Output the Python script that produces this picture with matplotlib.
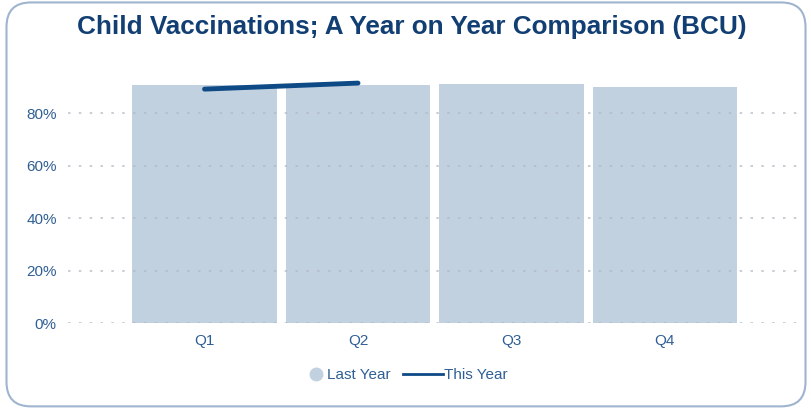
import matplotlib.pyplot as plt
from matplotlib.patches import FancyBboxPatch
from matplotlib.lines import Line2D
from matplotlib.ticker import FuncFormatter

quarters = ['Q1', 'Q2', 'Q3', 'Q4']
last_year = [90.7, 90.6, 90.9, 90.0]
this_year = [89.1, 91.4]

bar_col = '#c2d1e0'
line_col = '#0e4a86'
text_col = '#2f5f94'

plt.rcParams['font.family'] = ['Liberation Sans', 'DejaVu Sans']

fig = plt.figure(figsize=(8.12, 4.08), dpi=100)
# rounded card border, kept behind the axes
card = FancyBboxPatch((0.008, 0.004), 0.984, 0.99, transform=fig.transFigure,
                      boxstyle='round,pad=0,rounding_size=0.03',
                      facecolor='white', edgecolor='#9fb4cf', linewidth=1.5,
                      mutation_aspect=2.0, zorder=-5)
fig.patches.append(card)
ax = fig.add_axes([0.0837, 0.2083, 0.9015, 0.6434])
ax.set_facecolor('none')

x = range(len(quarters))
ax.bar(x, last_year, width=0.94, color=bar_col, zorder=2)
ax.plot(range(len(this_year)), this_year, color=line_col, linewidth=3.5,
        solid_capstyle='round', zorder=4)

ax.set_xlim(-0.89, 3.88)
ax.set_ylim(0, 100)
ax.set_yticks([0, 20, 40, 60, 80])
ax.yaxis.set_major_formatter(FuncFormatter(lambda v, p: f'{v:.0f}%'))
ax.set_xticks(list(x))
ax.set_xticklabels(quarters)
ax.tick_params(axis='both', length=0, labelsize=11, colors=text_col)
ax.tick_params(axis='y', pad=8)
ax.tick_params(axis='x', pad=8)
ax.grid(axis='y', linestyle=(0, (1.5, 5)), color='#b0b8c2', linewidth=1.2, alpha=0.8, zorder=3)
ax.set_axisbelow(False)
for s in ax.spines.values():
    s.set_visible(False)

fig.text(0.507, 0.934, 'Child Vaccinations; A Year on Year Comparison (BCU)',
         ha='center', va='center', fontsize=18.8, fontweight='bold', color='#123f73')

# legend in two parts so the dot sits close to its label
dot = Line2D([], [], marker='o', linestyle='none', markersize=9,
             markerfacecolor=bar_col, markeredgecolor=bar_col)
dash = Line2D([], [], color=line_col, linewidth=2)
leg1 = fig.legend([dot], ['Last Year'], loc='center right', bbox_to_anchor=(0.49, 0.08),
                  frameon=False, fontsize=11, labelcolor=text_col, borderpad=0,
                  handlelength=0.8, handletextpad=0.3)
leg2 = fig.legend([dash], ['This Year'], loc='center left', bbox_to_anchor=(0.487, 0.08),
                  frameon=False, fontsize=11, labelcolor=text_col, borderpad=0,
                  handlelength=2.6, handletextpad=0.1)

fig.savefig('out.png', dpi=100)
